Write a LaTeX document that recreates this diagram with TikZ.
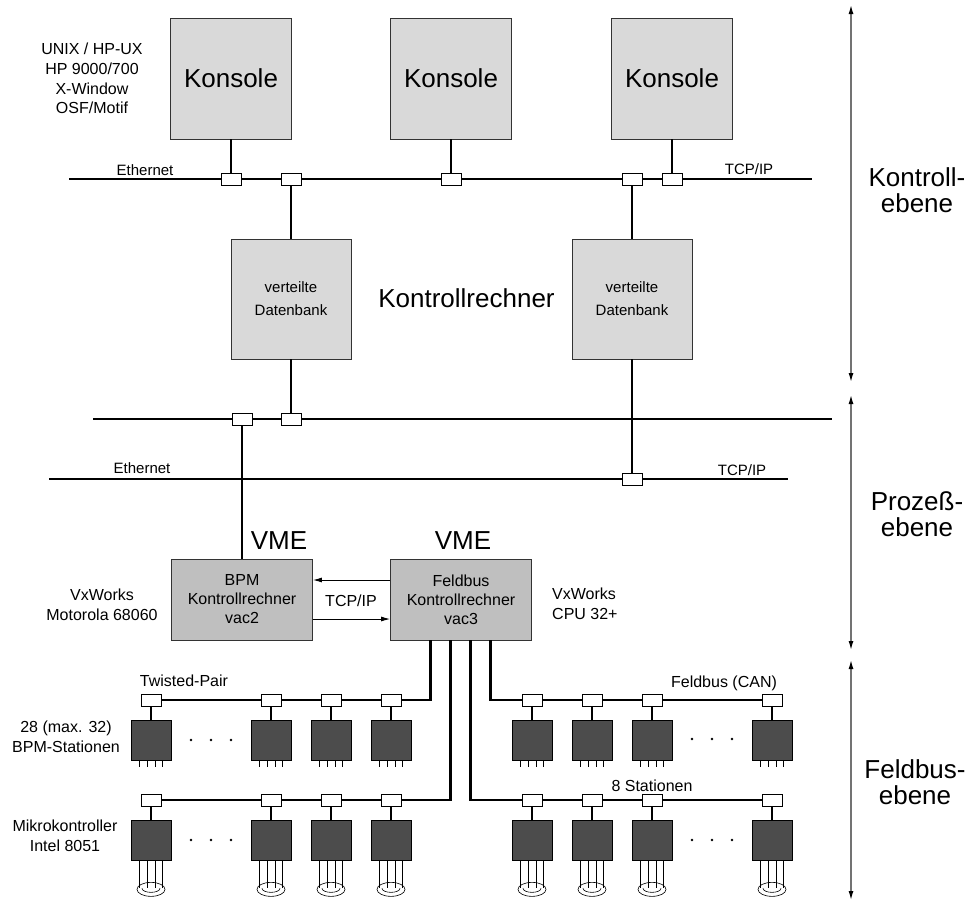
\documentclass[tikz,border=0pt]{standalone}
\usepackage{fontspec}
\setmainfont{Liberation Sans}
\usepackage{tikz}
\usetikzlibrary{arrows.meta, positioning, calc}
\tikzset{
	bus/.style={draw, line width=2.7pt},
	port/.style={rectangle, draw, fill=white, line width=0.7pt, minimum width=20pt, minimum height=12pt, inner sep=0pt},
	link/.style={draw, line width=1pt, -{Latex[length=9pt, width=5pt]}}
}

\begin{document}
\begin{tikzpicture}[
		x=1pt, y=-1pt,
		konsole/.style={rectangle, draw=black!80, fill=black!15, line width=0.7pt, minimum width=121pt, minimum height=121pt, inner sep=0pt, font=\fontsize{26}{30}\selectfont},
		db/.style={rectangle, draw=black!80, fill=black!15, line width=0.7pt, minimum width=120pt, minimum height=120pt, inner sep=0pt, align=center, font=\fontsize{15}{23}\selectfont},
		vme/.style={rectangle, draw=black!80, fill=black!25, line width=0.7pt, minimum width=141pt, minimum height=81pt, inner sep=0pt, align=center, font=\fontsize{16}{19}\selectfont},
		station/.style={rectangle, draw=black, fill=black!70, line width=0.7pt, minimum size=40pt, inner sep=0pt},
		wire/.style={draw, line width=0.6pt},
		txt/.style={align=center, inner sep=0pt, font=\fontsize{16}{20}\selectfont},
		small/.style={inner sep=0pt, font=\fontsize{15}{18}\selectfont},
		big/.style={align=center, inner sep=0pt, font=\fontsize{26}{26}\selectfont},
		tier/.style={draw=black!55, line width=1.3pt, {Latex[length=9pt, width=5pt, black]}-{Latex[length=9pt, width=5pt, black]}},
		]
		\useasboundingbox (0,0) rectangle (968,902);
		
		% Kontrollebene - Konsolen
		\node[konsole] (kon1) at (231,78.5) {Konsole};
		\node[konsole] (kon2) at (451,78.5) {Konsole};
		\node[konsole] (kon3) at (672,78.5) {Konsole};
		\node[txt, font=\fontsize{16}{19.7}\selectfont] (unix) at (92,78.5) {UNIX / HP-UX\\HP 9000/700\\X-Window\\OSF/Motif};
		
		% Ethernet oben
		\coordinate (eth1w) at (69,179);
		\coordinate (eth1e) at (812,179);
		\node[port] (p1) at (231,179) {};
		\node[port] (p2) at (291,179) {};
		\node[port] (p3) at (451,179) {};
		\node[port] (p4) at (632,179) {};
		\node[port] (p5) at (672,179) {};
		\node[small] (eth1lab) at (145,170) {Ethernet};
		\node[small] (tcp1) at (749,169) {TCP/IP};
		
		% verteilte Datenbanken
		\node[db] (db1) at (291,299) {verteilte\\Datenbank};
		\node[db] (db2) at (632,299) {verteilte\\Datenbank};
		\node[big] (krech) at (466.5,298) {Kontrollrechner};
		
		% Prozessebene - zwei Busse
		\coordinate (bus2w) at (93,419);
		\coordinate (bus2e) at (832,419);
		\node[port] (p6) at (242,419) {};
		\node[port] (p7) at (291,419) {};
		\coordinate (eth2w) at (49,479);
		\coordinate (eth2e) at (788,479);
		\node[port] (p8) at (632,479) {};
		\node[small] (eth2lab) at (142,468) {Ethernet};
		\node[small] (tcp2) at (742,470) {TCP/IP};
		
		% VME Rechner
		\node[vme] (bpm) at (242,599.5) {BPM\\Kontrollrechner\\vac2};
		\node[vme] (fb) at (461,599.5) {Feldbus\\Kontrollrechner\\vac3};
		\node[big] (vme1) at (279,541) {VME};
		\node[big] (vme2) at (463,541) {VME};
		\node[txt] (os1) at (102,604.5) {VxWorks\\Motorola 68060};
		\node[txt, anchor=west, align=left] (os2) at (552,603.5) {VxWorks\\CPU 32+};
		\node[txt] (tcp3) at (351,601) {TCP/IP};
		
		% Busse oben
		\draw[bus] (eth1w) -- (p1) -- (p2) -- (p3) -- (p4) -- (p5) -- (eth1e);
		\draw[bus] (kon1) -- (p1);
		\draw[bus] (kon2) -- (p3);
		\draw[bus] (kon3) -- (p5);
		\draw[bus] (p2) -- (db1);
		\draw[bus] (p4) -- (db2);
		\draw[bus] (bus2w) -- (p6) -- (p7) -- (bus2e);
		\draw[bus] (db1) -- (p7);
		\draw[bus] (db2) -- (p8);
		\draw[bus] (eth2w) -- (p8) -- (eth2e);
		\draw[bus] (p6) -- (bpm);
		
		% TCP/IP zwischen den VME Rechnern
		\draw[link] ($(fb.west)+(0,-19.5)$) -- ($(bpm.east)+(0,-19.5)$);
		\draw[link] ($(bpm.east)+(0,19.5)$) -- ($(fb.west)+(0,19.5)$);
		
		% Feldbus Stationen
		\coordinate (fb1) at ($(fb.south west)+(40,0)$);
		\coordinate (fb2) at ($(fb.south west)+(60,0)$);
		\coordinate (fb3) at ($(fb.south west)+(80,0)$);
		\coordinate (fb4) at ($(fb.south west)+(100,0)$);
		
		\foreach \n/\x in {1/151,2/271,3/331,4/391}{
			\node[port] (pa\n) at (\x,700) {};
			\node[station] (sa\n) at (\x,740) {};
			\draw[bus] (pa\n) -- (sa\n);
			\foreach \d in {-11.5,-3.8,3.8,11.5}
				\draw[wire] ($(sa\n.south)+(\d,0)$) -- ++(0,7);
			\node[port] (pb\n) at (\x,800) {};
			\node[station] (sb\n) at (\x,840) {};
			\draw[bus] (pb\n) -- (sb\n);
			\foreach \d in {-11.5,-3.8,3.8,11.5}
				\draw[wire] ($(sb\n.south)+(\d,0)$) -- ++(0,28);
			\draw[wire] ($(sb\n.south)+(0,29)$) ellipse [x radius=14pt, y radius=7pt];
			\draw[wire] ($(sb\n.south)+(-9,28)$) arc [start angle=180, end angle=360, x radius=9pt, y radius=4pt];
		}
		\foreach \n/\x in {1/532,2/592,3/652,4/772}{
			\node[port] (pc\n) at (\x,700) {};
			\node[station] (sc\n) at (\x,740) {};
			\draw[bus] (pc\n) -- (sc\n);
			\foreach \d in {-11.5,-3.8,3.8,11.5}
				\draw[wire] ($(sc\n.south)+(\d,0)$) -- ++(0,7);
			\node[port] (pd\n) at (\x,800) {};
			\node[station] (sd\n) at (\x,840) {};
			\draw[bus] (pd\n) -- (sd\n);
			\foreach \d in {-11.5,-3.8,3.8,11.5}
				\draw[wire] ($(sd\n.south)+(\d,0)$) -- ++(0,28);
			\draw[wire] ($(sd\n.south)+(0,29)$) ellipse [x radius=14pt, y radius=7pt];
			\draw[wire] ($(sd\n.south)+(-9,28)$) arc [start angle=180, end angle=360, x radius=9pt, y radius=4pt];
		}
		
		\draw[bus] (pa1) -- (pa2) -- (pa3) -- (pa4) -- (pa4 -| fb1) -- (fb1);
		\draw[bus] (pb1) -- (pb2) -- (pb3) -- (pb4) -- (pb4 -| fb2) -- (fb2);
		\draw[bus] (fb4) |- (pc1) -- (pc2) -- (pc3) -- (pc4);
		\draw[bus] (fb3) |- (pd1) -- (pd2) -- (pd3) -- (pd4);
		
		% Punkte
		\foreach \x in {191,211,231}{
			\fill (\x,740) circle (1.3pt);
			\fill (\x,840) circle (1.3pt);
		}
		\foreach \x in {692,712,732}{
			\fill (\x,739) circle (1.3pt);
			\fill (\x,840) circle (1.3pt);
		}
		
		\node[txt] (twp) at (184,681) {Twisted-Pair};
		\node[txt] (can) at (724,683) {Feldbus (CAN)};
		\node[txt] (acht) at (652,786) {8 Stationen};
		\node[txt] (bpmst) at (66,737) {28 (max. 32)\\BPM-Stationen};
		\node[txt] (mikro) at (65,836) {Mikrokontroller\\Intel 8051};
		
		% Ebenen
		\coordinate (l1a) at (851,5);
		\coordinate (l1b) at (851,382);
		\coordinate (l2a) at (851,395);
		\coordinate (l2b) at (851,650);
		\coordinate (l3a) at (851,660);
		\coordinate (l3b) at (851,900);
		\draw[tier] (l1a) -- (l1b);
		\draw[tier] (l2a) -- (l2b);
		\draw[tier] (l3a) -- (l3b);
		\node[big] (ebk) at (917,190) {Kontroll-\\ebene};
		\node[big] (ebp) at (917,514) {Prozeß-\\ebene};
		\node[big] (ebf) at (915,782) {Feldbus-\\ebene};
		
	\end{tikzpicture}
\end{document}
